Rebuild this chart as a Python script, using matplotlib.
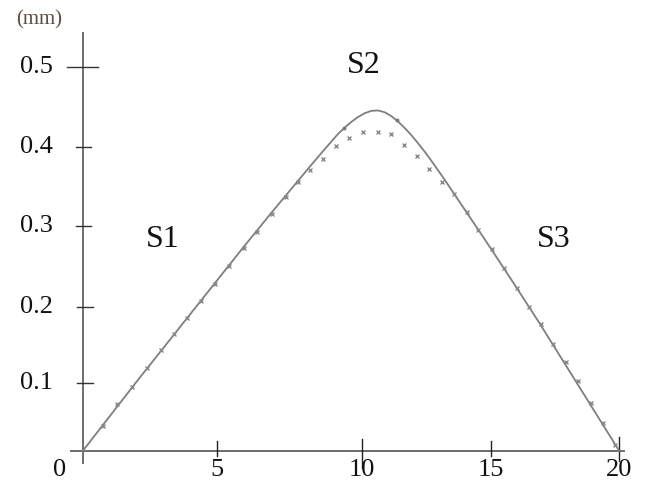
import matplotlib
matplotlib.use("Agg")
import matplotlib.pyplot as plt

# Profile curve (mm) along the span
curve_x = [0, 2, 4, 6, 7, 8, 8.5, 9, 9.5, 9.75, 10.0, 10.25, 10.5, 10.75, 11.0,
           11.25, 11.5, 11.75, 12.0, 12.25, 12.5, 12.75, 13.0, 13.25, 13.5,
           14, 15, 16, 17, 18, 19, 20]
curve_y = [0, 0.090, 0.178, 0.266, 0.309, 0.351, 0.372, 0.3925, 0.4125, 0.421,
           0.4285, 0.435, 0.440, 0.4432, 0.4438, 0.4415, 0.4365, 0.4295, 0.421,
           0.4115, 0.401, 0.390, 0.378, 0.3655, 0.353, 0.327, 0.275, 0.222,
           0.168, 0.112, 0.056, 0]

# Measured points
meas_x = [0.75, 1.29, 1.83, 2.39, 2.93, 3.41, 3.88, 4.40, 4.93, 5.47, 6.01,
          6.48, 7.04, 7.56, 8.01, 8.47, 8.95, 9.44, 9.94, 10.46, 11.00, 11.48,
          11.97, 12.45, 12.92, 13.38, 13.85, 14.31, 14.75, 15.24, 15.70, 16.17,
          16.64, 17.07, 17.54, 18.00, 18.45, 18.93, 19.38, 19.84]
meas_y = [0.033, 0.061, 0.083, 0.108, 0.132, 0.152, 0.173, 0.195, 0.218, 0.241,
          0.264, 0.285, 0.309, 0.331, 0.350, 0.366, 0.381, 0.397, 0.408, 0.416,
          0.416, 0.413, 0.399, 0.385, 0.367, 0.350, 0.335, 0.311, 0.288, 0.263,
          0.238, 0.213, 0.188, 0.1655, 0.139, 0.1156, 0.091, 0.063, 0.036, 0.008]

# Segment boundaries S1/S2 and S2/S3 on the curve
bound_x = [9.75, 11.70]
bound_y = [0.421, 0.431]

segment_labels = ["S1", "S2", "S3"]
x_tick_labels = ["5", "10", "15", "20"]
y_tick_labels = ["0.1", "0.2", "0.3", "0.4", "0.5"]
unit_label = "(mm)"

# Tick placement along the hand-drawn axes
x_tick_at = [5.0, 10.40, 15.23, 20.0]
x_tick_span = [(-0.0065, 0.013), (-0.022, 0.0156), (-0.0065, 0.013), (-0.013, 0.018)]
y_tick_at = [0.089, 0.188, 0.293, 0.3965, 0.5]
y_tick_span = [(-0.22, 0.38), (-0.22, 0.38), (-0.26, 0.32), (-0.26, 0.32), (-0.58, 0.58)]
seg_pos = [(2.99, 0.276), (10.48, 0.503), (17.57, 0.276)]

plt.rcParams['font.family'] = ['Liberation Serif', 'DejaVu Serif']

fig = plt.figure(figsize=(6.46, 4.92), dpi=100)
ax = fig.add_axes([0, 0, 1, 1])
ax.set_xlim(-3.082, 20.995)
ax.set_ylim(-0.0534, 0.5877)
ax.axis('off')

axis_col = '#555555'
# axes lines
ax.plot([-0.47, 20.2], [0, 0], color=axis_col, lw=1.2, solid_capstyle='butt')
ax.plot([0, 0], [-0.017, 0.546], color=axis_col, lw=1.2, solid_capstyle='butt')

for xt, (y0, y1) in zip(x_tick_at, x_tick_span):
    ax.plot([xt, xt], [y0, y1], color='#222222', lw=1.0)
for yt, (x0, x1) in zip(y_tick_at, y_tick_span):
    ax.plot([x0, x1], [yt, yt], color='#333333', lw=1.0)

ax.plot(curve_x, curve_y, color='#7f7f7f', lw=1.3)
ax.plot(meas_x, meas_y, linestyle='none', marker='x', markersize=3.0,
        markeredgewidth=1.0, color='#8a8a8a')
ax.plot(bound_x, bound_y, linestyle='none', marker='o', markersize=1.8,
        color='#7a7a7a')

tick_fs = 19
label_y = -0.0248
for xt, lab in zip(x_tick_at, x_tick_labels):
    ax.text(xt, label_y, lab, ha='center', va='center', fontsize=tick_fs, color='#111111')
ax.text(-0.846, label_y, "0", ha='center', va='center', fontsize=tick_fs, color='#111111')
for yt, lab in zip(y_tick_at, y_tick_labels):
    ax.text(-1.107, yt, lab, ha='right', va='center', fontsize=tick_fs, color='#111111')

ax.text(-1.629, 0.5616, unit_label, ha='center', va='center', fontsize=15, color='#5a5044')

for (sx, sy), lab in zip(seg_pos, segment_labels):
    ax.text(sx, sy, lab, ha='center', va='center', fontsize=23, color='#111111')

fig.savefig('out.png', dpi=100)
